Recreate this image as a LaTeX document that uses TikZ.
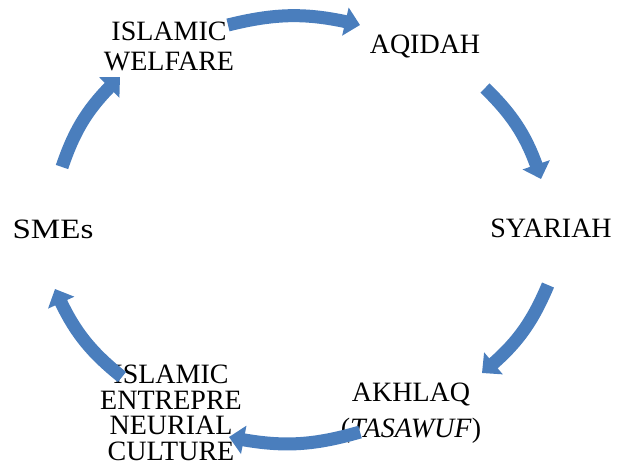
\documentclass[tikz,border=0pt]{standalone}
\usepackage{fontspec}
\setmainfont{Liberation Serif}
\usetikzlibrary{arrows.meta,bending}
\definecolor{arrowblue}{RGB}{74,126,189}
\begin{document}
\begin{tikzpicture}[x=1pt,y=-1pt,
  lbl/.style={inner sep=0pt,outer sep=0pt,align=center,font=\fontsize{28}{30}\selectfont},
  cyc/.style={draw=arrowblue,line width=13pt,
    -{Triangle[width=28pt,length=15pt,flex]},bend left=#1},
  cyc/.default=14]
\useasboundingbox (0,0) rectangle (617,466);
% labels
\node[lbl,anchor=north] (welfare) at (169,22) {ISLAMIC\\WELFARE};
\node[lbl,anchor=base] (aqidah) at (425,53) {AQIDAH};
\node[lbl,anchor=base] (syariah) at (551,237) {SYARIAH};
\node[lbl,anchor=base] (smes) at (53,238) {\scalebox{1.18}[1]{SMEs}};
\node[lbl,anchor=north,font=\fontsize{28}{36}\selectfont] (akhlaq) at (411,383) {AKHLAQ\\(\textit{TASAWUF})};
\node[lbl,anchor=north,font=\fontsize{28}{25.5}\selectfont] (culture) at (171,365) {ISLAMIC\\ENTREPRE\\NEURIAL\\CULTURE};
% arrow ends
\coordinate (a1s) at (228,25);  \coordinate (a1e) at (360,25);
\coordinate (a2s) at (485,88);  \coordinate (a2e) at (541,179);
\coordinate (a3s) at (548,285); \coordinate (a3e) at (482,373);
\coordinate (a4s) at (360,432); \coordinate (a4e) at (229,437);
\coordinate (a5s) at (122,377); \coordinate (a5e) at (55,289);
\coordinate (a6s) at (62,167);  \coordinate (a6e) at (120,77);
% arrows
\draw[cyc] (a1s) to (a1e);
\draw[cyc] (a2s) to (a2e);
\draw[cyc] (a3s) to (a3e);
\draw[cyc] (a4s) to (a4e);
\draw[cyc] (a5s) to (a5e);
\draw[cyc] (a6s) to (a6e);
\end{tikzpicture}
\end{document}
